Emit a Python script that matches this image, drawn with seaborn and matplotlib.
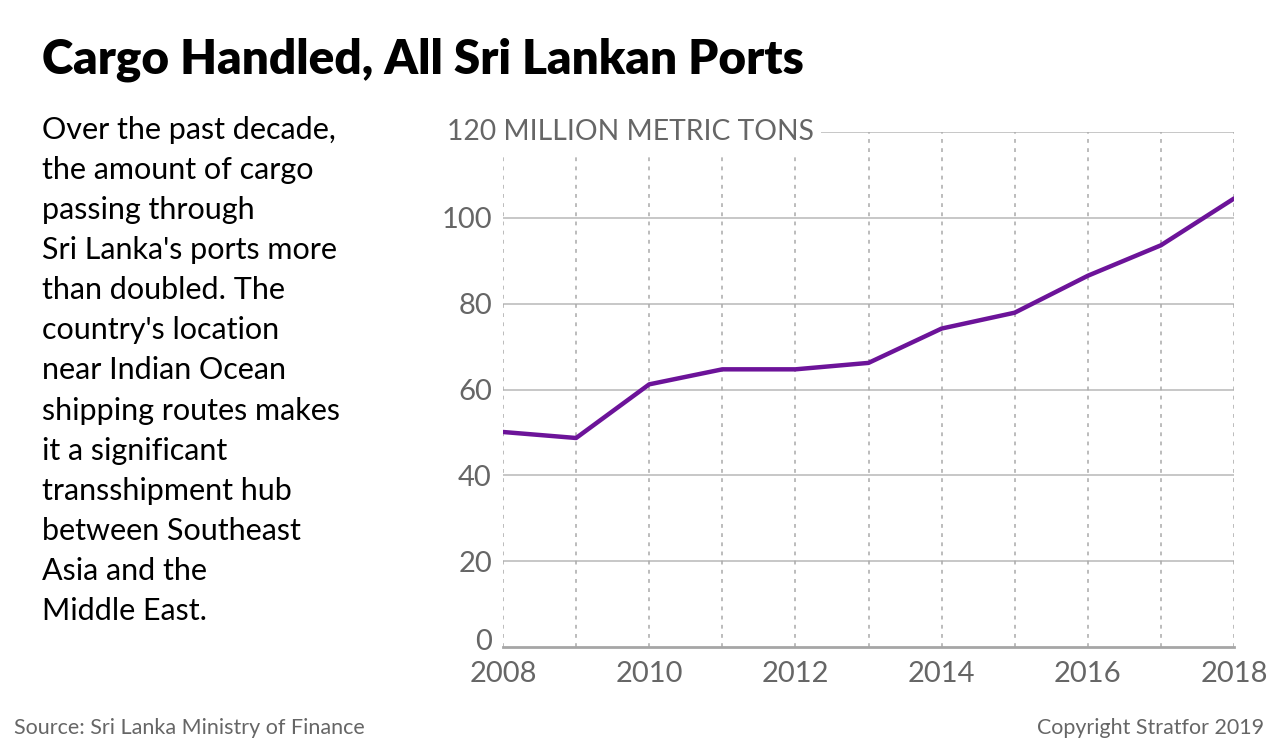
import pandas as pd
import matplotlib.pyplot as plt
import matplotlib.transforms as mtransforms
import seaborn as sns

# Cargo handled, all Sri Lankan ports (million metric tons)
years = [2008, 2009, 2010, 2011, 2012, 2013, 2014, 2015, 2016, 2017, 2018]
cargo = [50.1, 48.7, 61.2, 64.7, 64.7, 66.2, 74.2, 77.9, 86.5, 93.6, 104.5]
y_ticks = [0, 20, 40, 60, 80, 100, 120]
x_ticks = [2008, 2010, 2012, 2014, 2016, 2018]

df = pd.DataFrame({"year": years, "cargo": cargo})

sns.set_style("white")
plt.rcParams["font.family"] = ["Lato", "DejaVu Sans"]

fig = plt.figure(figsize=(12.8, 7.55), dpi=100)
ax = fig.add_axes([503 / 1280, 1 - 647 / 755, (1234 - 503) / 1280, (647 - 132) / 755])

grey = "#666666"

# gridlines
for y in y_ticks[1:]:
    ax.axhline(y, color="#b8b8b8", lw=1.1, zorder=1)
for x in years:
    ax.axvline(x, color="#aaaaaa", lw=1.1, ls=(0, (2.5, 3.5)), zorder=1)

sns.lineplot(data=df, x="year", y="cargo", color="#6c1399", lw=3.2, ax=ax, zorder=3)

ax.set_xlim(2008, 2018)
ax.set_ylim(0, 120)
ax.set_xticks(x_ticks)
ax.set_xticklabels([str(v) for v in x_ticks])
ax.set_yticks(y_ticks)
ax.set_yticklabels([str(v) for v in y_ticks[:-1]] + [""])
ax.tick_params(axis="both", length=0, labelsize=21, colors=grey)
ax.tick_params(axis="x", pad=10)
ax.tick_params(axis="y", pad=8)
ax.set_xlabel("")
ax.set_ylabel("")
for side in ["top", "right", "left"]:
    ax.spines[side].set_visible(False)
ax.spines["bottom"].set_color("#a6a6a6")
ax.spines["bottom"].set_linewidth(2)

# lift the "0" label a little above the baseline
zero_lab = ax.get_yticklabels()[0]
zero_lab.set_transform(zero_lab.get_transform()
                       + mtransforms.ScaledTranslation(0, 7 / 100, fig.dpi_scale_trans))

# unit label in place of the top tick
fig.text(447 / 1280, 1 - 132 / 755, "120 MILLION METRIC TONS", fontsize=20.3, color=grey,
         ha="left", va="center",
         bbox=dict(facecolor="white", edgecolor="none", pad=5), zorder=5)

# title
fig.text(42 / 1280, 1 - 60 / 755, "Cargo Handled, All Sri Lankan Ports", fontsize=34.3,
         fontweight="heavy", color="black", ha="left", va="center")

# description
desc = ("Over the past decade,\nthe amount of cargo\npassing through\n"
        "Sri Lanka's ports more\nthan doubled. The\ncountry's location\n"
        "near Indian Ocean\nshipping routes makes\nit a significant\n"
        "transshipment hub\nbetween Southeast\nAsia and the\nMiddle East.")
fig.text(42 / 1280, 1 - 116 / 755, desc, fontsize=22, color="black",
         ha="left", va="top", linespacing=1.525)

# footer
fig.text(14 / 1280, 1 - 728 / 755, "Source: Sri Lanka Ministry of Finance",
         fontsize=15.5, color=grey, ha="left", va="center")
fig.text(1264 / 1280, 1 - 728 / 755, "Copyright Stratfor 2019",
         fontsize=15.4, color=grey, ha="right", va="center")

fig.savefig("out.png", dpi=100)
